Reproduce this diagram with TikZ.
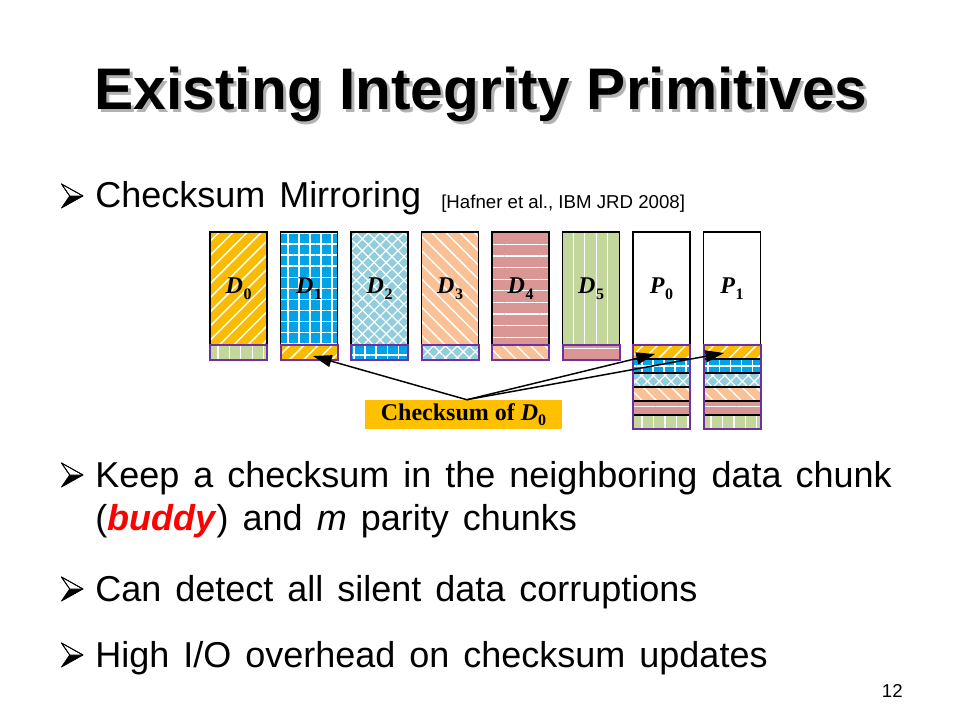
\documentclass[tikz,border=0pt]{standalone}
\usepackage{fontspec}
\setmainfont{Liberation Sans}
\newfontfamily\timesfont{Liberation Serif}
\usetikzlibrary{arrows.meta,patterns.meta}

\definecolor{dgold}{RGB}{250,188,0}
\definecolor{dblue}{RGB}{0,162,232}
\definecolor{dcyan}{RGB}{146,205,220}
\definecolor{dpeach}{RGB}{250,192,150}
\definecolor{drose}{RGB}{217,150,148}
\definecolor{dgreen}{RGB}{195,214,155}
\definecolor{dpurple}{RGB}{112,48,160}
\definecolor{lgold}{RGB}{255,192,0}

\newcommand{\chunklab}[2]{{\timesfont\bfseries\itshape #1}\kern0.5pt\raisebox{-0.45ex}{\timesfont\bfseries\fontsize{12}{12}\selectfont #2}}
\newcommand{\titletext}{Existing Integrity Primitives}
\newcommand{\bodyfont}{\fontsize{27}{27}\selectfont\spaceskip=10.5pt plus 1pt\relax}

\tikzset{
  pat0/.style={preaction={fill=dgold}, pattern={Lines[angle=45,distance=7.5pt,line width=1.1pt]}, pattern color=white},
  pat1/.style={preaction={fill=dblue}, pattern={Hatch[angle=0,distance=8.3pt,line width=1.2pt]}, pattern color=white},
  pat2/.style={preaction={fill=dcyan}, pattern={Hatch[angle=45,distance=6.3pt,line width=0.9pt]}, pattern color=white},
  pat3/.style={preaction={fill=dpeach}, pattern={Lines[angle=-45,distance=7.5pt,line width=1.1pt]}, pattern color=white},
  pat4/.style={preaction={fill=drose}, pattern={Lines[angle=0,distance=8.7pt,line width=1pt]}, pattern color=white},
  pat5/.style={preaction={fill=dgreen}, pattern={Lines[angle=90,distance=8.6pt,line width=1pt]}, pattern color=white},
  chunk/.style={draw=black, line width=0.8pt, minimum width=42.75pt, minimum height=84.75pt, inner sep=0pt, font=\fontsize{18}{18}\selectfont},
  strip/.style={draw=dpurple, line width=1.5pt, minimum width=42.75pt, minimum height=11.25pt, inner sep=0pt},
  body/.style={anchor=base west, inner sep=0pt, font=\bodyfont},
  ptr/.style={-{Triangle[length=14pt,width=9pt]}, line width=1.1pt},
  arrowbullet/.pic={
    \fill[black] (0,0) -- (-13.3,0) -- (-21.5,12) -- cycle;
    \draw[fill=white, line width=0.6pt, line join=round] (0,0) -- (-21.5,-12) -- (-13.3,0) -- cycle;
    \draw[line width=0.6pt, line join=round] (0,0) -- (-21.5,-12) -- (-13.3,0) -- (-21.5,12) -- cycle;
  }
}

\begin{document}
\begin{tikzpicture}[x=0.75pt, y=-0.75pt]
\useasboundingbox (0,0) rectangle (960,720);
\fill[white] (0,0) rectangle (960,720);

% title, shadow set in the same node
\node[font=\bfseries\fontsize{44}{44}\selectfont, anchor=base, inner sep=0pt] (title) at (481,110)
  {\makebox[0pt][l]{\hspace{2.2pt}\raisebox{-2.2pt}{\textcolor{black!30}{\titletext}}}\titletext};

\pic at (83,196) {arrowbullet};
\node[body] (b1) at (95,208) {Checksum Mirroring};
\node[anchor=base west, inner sep=0pt, font=\fontsize{14}{14}\selectfont] (cite) at (441,209) {[Hafner et al., IBM JRD 2008]};

% data chunks with buddy checksums
\foreach \i/\b in {0/5,1/0,2/1,3/2,4/3,5/4} {
  \node[chunk, pat\i] (D\i) at ({238.5+70.5*\i},288.5) {\chunklab{D}{\i}};
  \node[strip, pat\b] (S\i) at ({238.5+70.5*\i},352.5) {};
}

% parity chunks
\foreach \j in {0,1} {
  \node[chunk, fill=white] (P\j) at ({238.5+70.5*(6+\j)},288.5) {\chunklab{P}{\j}};
  \foreach \k in {0,...,5}
    \draw[pat\k, draw=black, line width=0.8pt] ({210+70.5*(6+\j)},{345+14*\k}) rectangle ++(57,14);
  \node[draw=dpurple, line width=1.5pt, minimum width=42.75pt, minimum height=63pt, inner sep=0pt] (Q\j) at ({238.5+70.5*(6+\j)},387) {};
}

\node[fill=lgold, minimum width=147.75pt, minimum height=21.75pt, inner sep=0pt, font=\timesfont\bfseries\fontsize{18}{18}\selectfont] (cs) at (463.5,414.5) {Checksum of \textit{D}\raisebox{-0.45ex}{\fontsize{12}{12}\selectfont 0}};

\coordinate (t1) at (313,356);
\coordinate (t2) at (655,354);
\coordinate (t3) at (724,353);
\foreach \t in {t1,t2,t3}
  \draw[ptr] ([xshift=2.5pt]cs.north) -- (\t);

\pic at (83,475) {arrowbullet};
\node[body] (b2) at (95,487) {Keep a checksum in the neighboring data chunk};
\node[body] (b2x) at (95,530) {(\textcolor{red}{\textbf{\textit{buddy}}}) and \textit{m} parity chunks};
\pic at (83,589) {arrowbullet};
\node[body] (b3) at (95,601) {Can detect all silent data corruptions};
\pic at (83,655) {arrowbullet};
\node[body] (b4) at (95,667) {High I/O overhead on checksum updates};

\node[anchor=base east, inner sep=0pt, font=\fontsize{14}{14}\selectfont] (pg) at (903,697) {12};
\end{tikzpicture}
\end{document}
